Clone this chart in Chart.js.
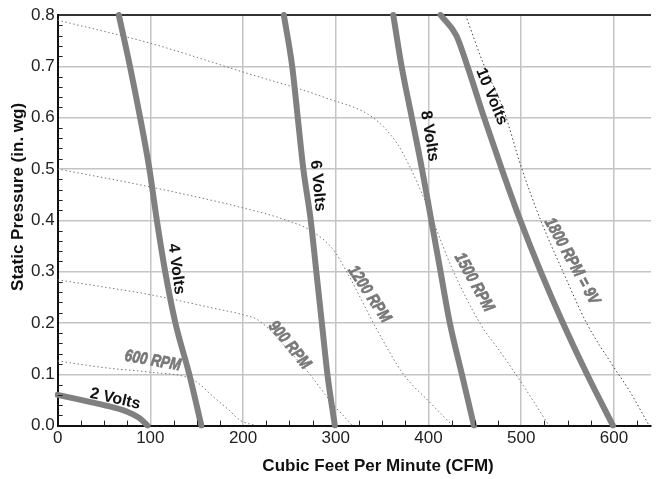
<!DOCTYPE html>
<html>
<head>
<meta charset="utf-8">
<script src="https://cdn.jsdelivr.net/npm/chart.js@4.4.1/dist/chart.umd.min.js"></script>
<style>
  html, body { margin: 0; padding: 0; background: #fff; }
  #wrap { width: 656px; height: 479px; }
</style>
</head>
<body>
<div id="wrap"><canvas id="fanChart"></canvas></div>
<script>
// Static pressure steps shared by the steep voltage curves (in. wg)
const pressureSteps = [0.8, 0.7, 0.6, 0.5, 0.4, 0.3, 0.2, 0.1, 0];

// Voltage curves (CFM vs static pressure)
const volts2Cfm = [0, 25, 50, 75, 88, 97];
const volts2Pressure = [0.06, 0.05, 0.04, 0.027, 0.015, 0];
const volts4Cfm = [66, 78, 89, 99, 107, 116, 127, 142, 155];
const volts6Cfm = [244, 253, 259, 265, 273, 279, 285, 291, 299];
const volts8Cfm = [362, 371, 382, 393, 403, 413, 423, 436, 449];
const volts10Cfm = [413, 430, 442, 460, 479, 499, 521, 545, 571, 599];
const volts10Pressure = [0.8, 0.76, 0.7, 0.6, 0.5, 0.4, 0.3, 0.2, 0.1, 0];

// Fan speed curves (dotted)
const rpm600Cfm = [0, 50, 100, 140, 150, 168, 185, 197, 214];
const rpm600Pressure = [0.126, 0.113, 0.104, 0.094, 0.085, 0.056, 0.03, 0.01, 0];
const rpm900Cfm = [0, 50, 100, 165, 200, 215, 228, 245, 272, 294, 318];
const rpm900Pressure = [0.284, 0.27, 0.255, 0.23, 0.216, 0.207, 0.188, 0.155, 0.1, 0.048, 0];
const rpm1200Cfm = [0, 100, 198, 247, 276, 298, 312, 345, 373, 400, 426];
const rpm1200Pressure = [0.5, 0.465, 0.425, 0.4, 0.377, 0.341, 0.299, 0.185, 0.1, 0.048, 0];
const rpm1500Cfm = [0, 100, 198, 290, 341, 366, 380, 393, 409, 425, 456, 477, 499, 530];
const rpm1500Pressure = [0.79, 0.745, 0.69, 0.638, 0.599, 0.55, 0.504, 0.452, 0.38, 0.308, 0.198, 0.145, 0.087, 0];
const rpm1800Cfm = [440, 459, 481, 500, 521, 545, 571, 598, 617, 638];
const rpm1800Pressure = [0.8, 0.706, 0.615, 0.504, 0.4, 0.3, 0.198, 0.119, 0.067, 0];

// Axis ticks
const cfmTicks = [0, 100, 200, 300, 400, 500, 600];
const pressureTicks = [0, 0.1, 0.2, 0.3, 0.4, 0.5, 0.6, 0.7, 0.8];

// In-chart curve captions, anchored in data units
const curveLabels = [
    { text: '2 Volts', cfm: 62, pressure: 0.052, angle: 13, rpm: false },
    { text: '4 Volts', cfm: 128, pressure: 0.305, angle: 82.5, rpm: false },
    { text: '6 Volts', cfm: 280.5, pressure: 0.467, angle: 84.5, rpm: false },
    { text: '8 Volts', cfm: 401, pressure: 0.564, angle: 81, rpm: false },
    { text: '10 Volts', cfm: 468, pressure: 0.641, angle: 67.5, rpm: false },
    { text: '600 RPM', cfm: 102.7, pressure: 0.126, angle: 10, rpm: true },
    { text: '900 RPM', cfm: 250, pressure: 0.157, angle: 50.5, rpm: true },
    { text: '1200 RPM', cfm: 336, pressure: 0.256, angle: 56.5, rpm: true },
    { text: '1500 RPM', cfm: 449, pressure: 0.279, angle: 61, rpm: true },
    { text: '1800 RPM = 9V', cfm: 554.6, pressure: 0.32, angle: 61, rpm: true }
];

const baseFont = "'Liberation Sans', Arial, Helvetica, sans-serif";

const toPoints = (xs, ys) => xs.map((x, i) => ({ x, y: ys[i] }));

const voltStyle = { borderColor: '#808080', borderWidth: 6, borderCapStyle: 'round', clip: 3 };
const rpmStyle = { borderColor: '#7a7a7a', borderWidth: 1, borderDash: [1.5, 2.5], clip: 0 };

const datasets = [
    { label: '2 Volts', data: toPoints(volts2Cfm, volts2Pressure), ...voltStyle },
    { label: '4 Volts', data: toPoints(volts4Cfm, pressureSteps), ...voltStyle },
    { label: '6 Volts', data: toPoints(volts6Cfm, pressureSteps), ...voltStyle },
    { label: '8 Volts', data: toPoints(volts8Cfm, pressureSteps), ...voltStyle },
    { label: '10 Volts', data: toPoints(volts10Cfm, volts10Pressure), ...voltStyle },
    { label: '600 RPM', data: toPoints(rpm600Cfm, rpm600Pressure), ...rpmStyle },
    { label: '900 RPM', data: toPoints(rpm900Cfm, rpm900Pressure), ...rpmStyle },
    { label: '1200 RPM', data: toPoints(rpm1200Cfm, rpm1200Pressure), ...rpmStyle },
    { label: '1500 RPM', data: toPoints(rpm1500Cfm, rpm1500Pressure), ...rpmStyle },
    { label: '1800 RPM = 9V', data: toPoints(rpm1800Cfm, rpm1800Pressure), ...rpmStyle, borderColor: '#444' }
].map(ds => ({ ...ds, showLine: true, pointRadius: 0, fill: false, cubicInterpolationMode: 'monotone' }));

// captions, inside minor ticks and axis titles
const annotate = {
    id: 'annotate',
    afterDatasetsDraw(chart) {
        const { ctx, scales: { x, y } } = chart;
        curveLabels.forEach(l => {
            ctx.save();
            ctx.translate(x.getPixelForValue(l.cfm), y.getPixelForValue(l.pressure));
            ctx.rotate(l.angle * Math.PI / 180);
            ctx.textAlign = 'center';
            ctx.textBaseline = 'middle';
            if (l.rpm) {
                // heavy condensed oblique face, squeezed horizontally
                ctx.scale(0.8, 1);
                ctx.font = `italic bold 17px ${baseFont}`;
                ctx.fillStyle = '#787878';
                ctx.strokeStyle = '#787878';
                ctx.lineWidth = 0.7;
                ctx.strokeText(l.text, 0, 0);
            } else {
                ctx.font = `bold 16px ${baseFont}`;
                ctx.fillStyle = '#111';
            }
            ctx.fillText(l.text, 0, 0);
            ctx.restore();
        });
    },
    afterDraw(chart) {
        const { ctx, chartArea: area, scales: { x, y } } = chart;
        ctx.save();
        ctx.strokeStyle = '#222';
        ctx.lineWidth = 1;
        ctx.beginPath();
        for (let v = 25; v < 640; v += 25) {
            if (v % 100 === 0) continue;
            const px = Math.round(x.getPixelForValue(v)) + 0.5;
            ctx.moveTo(px, area.bottom);
            ctx.lineTo(px, area.bottom - 5);
        }
        for (let i = 1; i < 40; i++) {
            if (i % 5 === 0) continue;
            const py = Math.round(y.getPixelForValue(i * 0.02)) + 0.5;
            ctx.moveTo(area.left, py);
            ctx.lineTo(area.left + 5, py);
        }
        ctx.stroke();

        ctx.fillStyle = '#111';
        ctx.font = `bold 17px ${baseFont}`;
        ctx.textAlign = 'center';
        ctx.textBaseline = 'middle';
        ctx.fillText('Cubic Feet Per Minute (CFM)', area.left + (area.right - area.left) * 0.54, area.bottom + 41);
        ctx.translate(area.left - 39.5, area.top + (area.bottom - area.top) * 0.443);
        ctx.rotate(-Math.PI / 2);
        ctx.fillText('Static Pressure (in. wg)', 0, 0);
        ctx.restore();
    }
};

new Chart(document.getElementById('fanChart'), {
    type: 'scatter',
    data: { datasets },
    options: {
        responsive: true,
        maintainAspectRatio: false,
        devicePixelRatio: 1,
        animation: false,
        layout: { padding: { left: 28, right: 5, top: 15, bottom: 27 } },
        plugins: { legend: { display: false }, tooltip: { enabled: false } },
        scales: {
            x: {
                type: 'linear',
                min: 0,
                max: 640,
                afterBuildTicks: scale => { scale.ticks = cfmTicks.map(value => ({ value })); },
                ticks: { color: '#222', font: { size: 17, family: baseFont }, padding: 3, maxRotation: 0 },
                grid: { color: '#c4c4c4', lineWidth: 1.5, drawTicks: false },
                border: { color: '#111', width: 2 }
            },
            y: {
                min: 0,
                max: 0.8,
                afterBuildTicks: scale => { scale.ticks = pressureTicks.map(value => ({ value })); },
                ticks: { color: '#222', font: { size: 17, family: baseFont }, padding: 3, callback: v => v.toFixed(1) },
                grid: {
                    color: c => (c.tick && c.tick.value >= 0.799 ? '#333' : '#c4c4c4'),
                    lineWidth: c => (c.tick && c.tick.value >= 0.799 ? 2 : 1.5),
                    drawTicks: false
                },
                border: { color: '#111', width: 2 }
            }
        }
    },
    plugins: [annotate]
});
</script>
</body>
</html>
